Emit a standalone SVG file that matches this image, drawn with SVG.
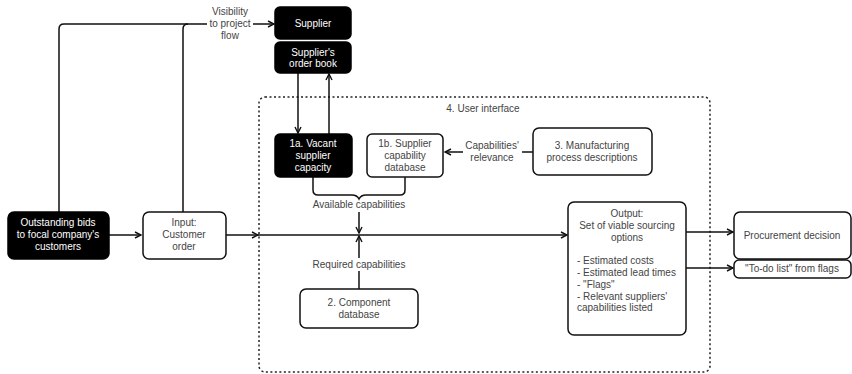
<svg xmlns="http://www.w3.org/2000/svg" width="852" height="374" viewBox="0 0 852 374">
  <style>
    text { font-family: "Liberation Sans", Arial, sans-serif; font-size: 10px; fill: #444; text-anchor: middle; }
    .dark rect { fill: #000; stroke: #000; stroke-width: 1.5; }
    .dark text { fill: #fff; }
    .light rect { fill: #fff; stroke: #111; stroke-width: 1.5; }
    .line { fill: none; stroke: #111; stroke-width: 1.5; }
    .left { text-anchor: start; }
  </style>
  <defs>
    <marker id="arrow" viewBox="0 0 8 8" refX="7" refY="4" markerWidth="8" markerHeight="8" markerUnits="userSpaceOnUse" orient="auto">
      <path d="M1,1 L7,4 L1,7" fill="none" stroke="#111" stroke-width="1.4"/>
    </marker>
  </defs>

  <rect width="852" height="374" fill="#fff"/>

  <!-- user interface boundary -->
  <g id="user-interface">
    <rect x="259" y="97" width="451" height="275" rx="6" fill="none" stroke="#222" stroke-width="1.5" stroke-dasharray="2 2.5"/>
    <text x="483" y="112">4. User interface</text>
  </g>

  <g id="connectors">
    <!-- visibility to project flow -->
    <path class="line" d="M59,212 V29 Q59,24 64,24 H207"/>
    <path class="line" d="M183,212 V29 Q183,24 188,24"/>
    <path class="line" d="M253,24 H274" marker-end="url(#arrow)"/>
    <text x="230" y="15">Visibility</text>
    <text x="230" y="27">to project</text>
    <text x="230" y="39">flow</text>

    <!-- supplier order book to/from vacant capacity -->
    <path class="line" d="M298,73 V133" marker-end="url(#arrow)"/>
    <path class="line" d="M329,134 V74" marker-end="url(#arrow)"/>

    <!-- capabilities' relevance -->
    <path class="line" d="M533,152 H522"/>
    <path class="line" d="M463,152 H445" marker-end="url(#arrow)"/>
    <text x="492" y="149">Capabilities'</text>
    <text x="492" y="161">relevance</text>

    <!-- brace joining 1a and 1b -->
    <path class="line" d="M313,177 V190 Q313,195 318,195 H352 Q357,195 359,199 Q361,195 366,195 H400 Q405,195 405,190 V177"/>
    <text x="359" y="208">Available capabilities</text>
    <path class="line" d="M359,212 V233" marker-end="url(#arrow)"/>

    <!-- required capabilities -->
    <path class="line" d="M359,289 V271"/>
    <path class="line" d="M359,258 V236" marker-end="url(#arrow)"/>
    <text x="359" y="268">Required capabilities</text>

    <!-- main flow -->
    <path class="line" d="M109,235 H141" marker-end="url(#arrow)"/>
    <path class="line" d="M226,235 H258" marker-end="url(#arrow)"/>
    <path class="line" d="M258,235 H567" marker-end="url(#arrow)"/>

    <!-- outputs -->
    <path class="line" d="M686,232 H733" marker-end="url(#arrow)"/>
    <path class="line" d="M686,268 H733" marker-end="url(#arrow)"/>
  </g>

  <g id="supplier" class="dark">
    <rect x="275" y="7" width="76" height="32" rx="5"/>
    <text x="313" y="27">Supplier</text>
  </g>

  <g id="order-book" class="dark">
    <rect x="275" y="42" width="76" height="31" rx="5"/>
    <text x="313" y="56">Supplier's</text>
    <text x="313" y="67">order book</text>
  </g>

  <g id="vacant-capacity" class="dark">
    <rect x="275" y="134" width="77" height="43" rx="5"/>
    <text x="313" y="147">1a. Vacant</text>
    <text x="313" y="159">supplier</text>
    <text x="313" y="171">capacity</text>
  </g>

  <g id="capability-db" class="light">
    <rect x="367" y="134" width="76" height="43" rx="5"/>
    <text x="405" y="147">1b. Supplier</text>
    <text x="405" y="159">capability</text>
    <text x="405" y="171">database</text>
  </g>

  <g id="process-descriptions" class="light">
    <rect x="533" y="128" width="119" height="47" rx="6"/>
    <text x="592" y="149">3. Manufacturing</text>
    <text x="592" y="161">process descriptions</text>
  </g>

  <g id="outstanding-bids" class="dark">
    <rect x="8" y="212" width="101" height="47" rx="6"/>
    <text x="58" y="226">Outstanding bids</text>
    <text x="58" y="238">to focal company's</text>
    <text x="58" y="250">customers</text>
  </g>

  <g id="customer-order" class="light">
    <rect x="143" y="212" width="83" height="47" rx="6"/>
    <text x="184" y="226">Input:</text>
    <text x="184" y="238">Customer</text>
    <text x="184" y="250">order</text>
  </g>

  <g id="component-db" class="light">
    <rect x="300" y="289" width="118" height="39" rx="6"/>
    <text x="359" y="306">2. Component</text>
    <text x="359" y="318">database</text>
  </g>

  <g id="output" class="light">
    <rect x="568" y="202" width="118" height="133" rx="6"/>
    <text x="627" y="217">Output:</text>
    <text x="627" y="229">Set of viable sourcing</text>
    <text x="627" y="241">options</text>
    <text class="left" x="577" y="264">- Estimated costs</text>
    <text class="left" x="577" y="276">- Estimated lead times</text>
    <text class="left" x="577" y="288">- "Flags"</text>
    <text class="left" x="577" y="300">- Relevant suppliers'</text>
    <text class="left" x="577" y="311">capabilities listed</text>
  </g>

  <g id="procurement-decision" class="light">
    <rect x="734" y="212" width="117" height="47" rx="6"/>
    <text x="792" y="239">Procurement decision</text>
  </g>

  <g id="todo-list" class="light">
    <rect x="734" y="260" width="117" height="18" rx="5"/>
    <text x="792" y="272">"To-do list" from flags</text>
  </g>
</svg>
